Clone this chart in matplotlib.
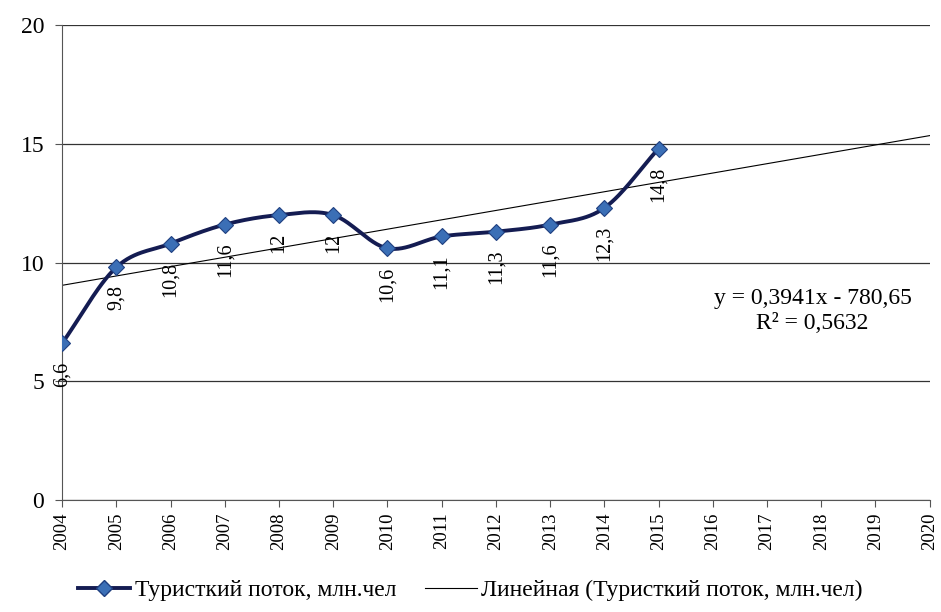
import numpy as np
import matplotlib
matplotlib.use("Agg")
import matplotlib.pyplot as plt
from matplotlib.lines import Line2D

plt.rcParams['font.family'] = ['Liberation Serif', 'DejaVu Serif']

years = [2004, 2005, 2006, 2007, 2008, 2009, 2010, 2011, 2012, 2013, 2014, 2015]
values = [6.6, 9.8, 10.8, 11.6, 12, 12, 10.6, 11.1, 11.3, 11.6, 12.3, 14.8]
value_labels = ["6,6", "9,8", "10,8", "11,6", "12", "12", "10,6", "11,1", "11,3", "11,6", "12,3", "14,8"]
axis_years = list(range(2004, 2021))
series_name = "Туристкий поток, млн.чел"
trend_name = "Линейная (Туристкий поток, млн.чел)"
eq_text = "y = 0,3941x - 780,65"
r2_text = "R² = 0,5632"


def smooth_curve(x, y, n=30):
    x = np.asarray(x, float); y = np.asarray(y, float)
    px = np.concatenate([[2 * x[0] - x[1]], x, [2 * x[-1] - x[-2]]])
    py = np.concatenate([[2 * y[0] - y[1]], y, [2 * y[-1] - y[-2]]])
    xs, ys = [], []
    for i in range(1, len(px) - 2):
        t = np.linspace(0, 1, n, endpoint=False)
        p0, p1, p2, p3 = [np.array([px[j], py[j]]) for j in (i - 1, i, i + 1, i + 2)]
        c1 = p1 + (p2 - p0) / 6.0
        c2 = p2 - (p3 - p1) / 6.0
        for tt in t:
            b = ((1 - tt) ** 3) * p1 + 3 * ((1 - tt) ** 2) * tt * c1 + 3 * (1 - tt) * tt ** 2 * c2 + tt ** 3 * p2
            xs.append(b[0]); ys.append(b[1])
    xs.append(x[-1]); ys.append(y[-1])
    return np.array(xs), np.array(ys)


fig = plt.figure(figsize=(9.41, 6.12), dpi=100)
ax = fig.add_axes([0.066, 0.183, 0.922, 0.776])

ax.set_xlim(2004, 2020)
ax.set_ylim(0, 20)
ax.set_yticks([0, 5, 10, 15, 20])
ax.set_xticks(axis_years)
ax.set_xticklabels([str(y) for y in axis_years], rotation=90, fontsize=13.5)
ax.tick_params(axis='y', labelsize=17, length=5, width=0.8, color='#555555', pad=8)
ax.tick_params(axis='x', length=5, width=0.8, color='#555555', pad=4)
ax.grid(axis='y', color='#333333', linewidth=0.9)
ax.set_axisbelow(True)
for s in ('top', 'right'):
    ax.spines[s].set_visible(False)
ax.spines['left'].set_color('#555555')
ax.spines['bottom'].set_color('#555555')

# linear trendline fitted to the series
slope, intercept = np.polyfit(years, values, 1)
tx = np.array([axis_years[0], axis_years[-1]], float)
ax.plot(tx, slope * tx + intercept, color='black', linewidth=0.8, zorder=2)

# smoothed series
sx, sy = smooth_curve(years, values)
ax.plot(sx, sy, color='#141c52', linewidth=2.8, zorder=3, solid_capstyle='round')
ax.plot(years, values, linestyle='none', marker='D', markersize=8,
        markerfacecolor='#3b6fb6', markeredgecolor='#1f3f80', markeredgewidth=0.8, zorder=4)

for x, y, lab in zip(years, values, value_labels):
    ax.annotate(lab, (x, y), xytext=(0, -13), textcoords='offset points',
                rotation=90, ha='center', va='top', fontsize=14.5, zorder=5)

ax.text(0.865, 0.398, eq_text + "\n" + r2_text, transform=ax.transAxes,
        ha='center', va='center', fontsize=17, linespacing=1.2)

handles = [Line2D([0], [0], color='#141c52', linewidth=2.8, marker='D', markersize=8,
                  markerfacecolor='#3b6fb6', markeredgecolor='#1f3f80'),
           Line2D([0], [0], color='black', linewidth=0.8)]
fig.legend(handles, [series_name, trend_name], loc='center', bbox_to_anchor=(0.5, 0.035),
           ncol=2, frameon=False, fontsize=17, handlelength=2.2, handletextpad=0.2,
           columnspacing=1.2)

fig.savefig('out.png', dpi=100)
